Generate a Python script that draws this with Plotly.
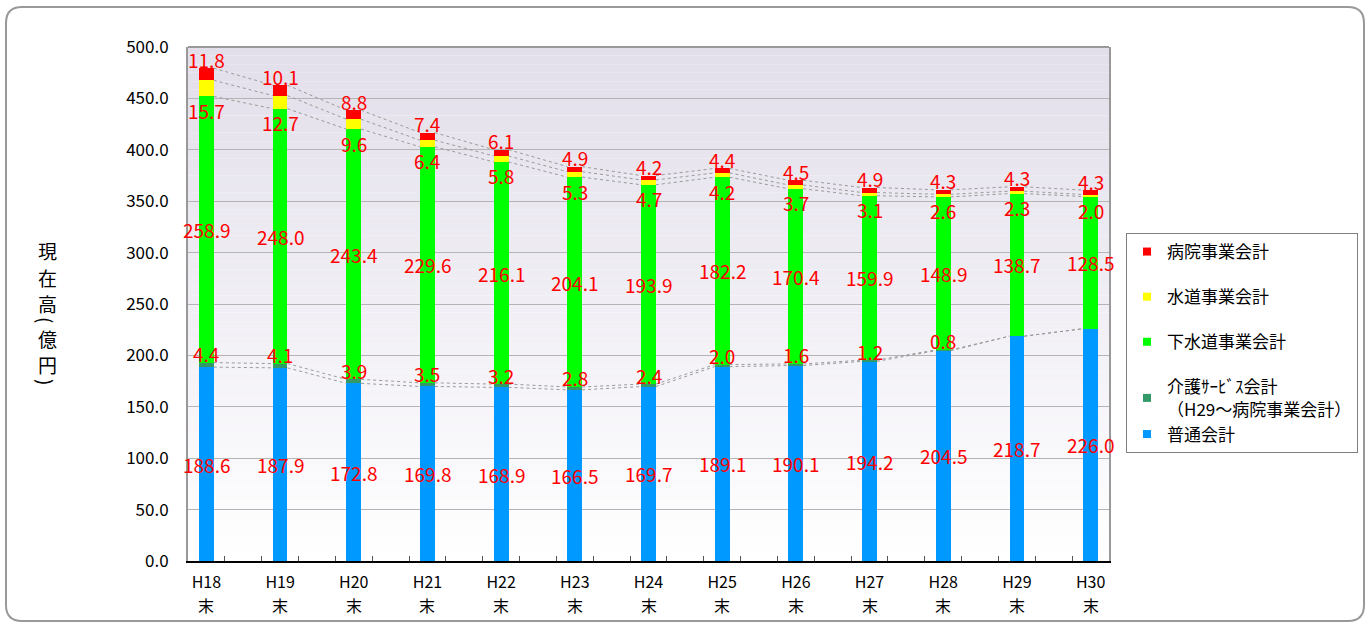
import plotly.graph_objects as go

# Fiscal year-end labels (Heisei era)
years = ["H18", "H19", "H20", "H21", "H22", "H23", "H24", "H25", "H26", "H27", "H28", "H29", "H30"]
year_suffix = "末"

# Outstanding balance by account (100 million yen)
general = [188.6, 187.9, 172.8, 169.8, 168.9, 166.5, 169.7, 189.1, 190.1, 194.2, 204.5, 218.7, 226.0]
care = [4.4, 4.1, 3.9, 3.5, 3.2, 2.8, 2.4, 2.0, 1.6, 1.2, 0.8, 0.0, 0.0]
sewer = [258.9, 248.0, 243.4, 229.6, 216.1, 204.1, 193.9, 182.2, 170.4, 159.9, 148.9, 138.7, 128.5]
water = [15.7, 12.7, 9.6, 6.4, 5.8, 5.3, 4.7, 4.2, 3.7, 3.1, 2.6, 2.3, 2.0]
hospital = [11.8, 10.1, 8.8, 7.4, 6.1, 4.9, 4.2, 4.4, 4.5, 4.9, 4.3, 4.3, 4.3]

names = {
    "hospital": "病院事業会計",
    "water": "水道事業会計",
    "sewer": "下水道事業会計",
    "care": "介護ｻｰﾋﾞｽ会計<br>（H29～病院事業会計）",
    "general": "普通会計",
}
colors = {
    "hospital": "#ff0000",
    "water": "#ffff00",
    "sewer": "#00ff00",
    "care": "#339966",
    "general": "#0099ff",
}

W, H = 1371, 623
ML, MR, MT, MB = 188, 262, 47, 62
PW, PH = W - ML - MR, H - MT - MB
BAR_W = 0.2
FONT = "Noto Sans CJK JP"

x = list(range(len(years)))
series = [("general", general), ("care", care), ("sewer", sewer), ("water", water), ("hospital", hospital)]


def px2paper(px, py):
    return (px - ML) / PW, 1 - (py - MT) / PH


fig = go.Figure()

# stacked bars
for key, vals in series:
    fig.add_trace(go.Bar(
        x=x, y=vals, width=BAR_W, marker=dict(color=colors[key], line=dict(width=0)),
        showlegend=False, hoverinfo="skip",
    ))

# cumulative tops of each segment
tops = {}
run = [0.0] * len(x)
for key, vals in series:
    run = [r + v for r, v in zip(run, vals)]
    tops[key] = list(run)

# series lines joining segment tops between neighbouring bars
for key, _ in series:
    lx, ly = [], []
    t = tops[key]
    for i in range(len(x) - 1):
        lx += [x[i] + BAR_W / 2, x[i + 1] - BAR_W / 2, None]
        ly += [t[i], t[i + 1], None]
    fig.add_trace(go.Scatter(x=lx, y=ly, mode="lines",
                             line=dict(color="#9a9a9a", width=1, dash="dot"),
                             showlegend=False, hoverinfo="skip"))

# legend entries (top to bottom)
legend_order = [("hospital", "g1"), ("water", "g2"), ("sewer", "g3"), ("care", "g4"), ("general", "g4")]
for key, grp in legend_order:
    fig.add_trace(go.Scatter(
        x=[None], y=[None], mode="markers", name=names[key],
        marker=dict(symbol="square", size=8, color=colors[key]),
        legendgroup=grp,
    ))

# value labels
lab_font = dict(family=FONT, size=19, color="#ff0000")
ann = []
for i in x:
    ann.append(dict(x=i, y=general[i] / 2, text=f"{general[i]:.1f}"))
    if care[i] > 0:
        ann.append(dict(x=i, y=tops["care"][i], text=f"{care[i]:.1f}", yshift=9))
    ann.append(dict(x=i, y=(tops["care"][i] + tops["sewer"][i]) / 2, text=f"{sewer[i]:.1f}"))
    ann.append(dict(x=i, y=tops["sewer"][i], text=f"{water[i]:.1f}", yshift=-14))
    ann.append(dict(x=i, y=tops["hospital"][i], text=f"{hospital[i]:.1f}", yshift=9))
annotations = []
for a in ann:
    a.update(xref="x", yref="y", showarrow=False, font=lab_font, xanchor="center", yanchor="middle")
    annotations.append(a)

# second line of the category labels
_, y_suffix = px2paper(0, 605)
for i in x:
    annotations.append(dict(xref="x", yref="paper", x=i, y=y_suffix, text=year_suffix,
                            showarrow=False, xanchor="center", yanchor="middle",
                            font=dict(family=FONT, size=16, color="#000000")))

# vertical axis title, one glyph per line; brackets turned for vertical writing
title_glyphs = [("現", 251, 0), ("在", 277, 0), ("高", 303, 0), ("(", 320, 90),
                ("億", 338, 0), ("円", 364, 0), (")", 382, 90)]
for ch, py, ang in title_glyphs:
    xp, yp = px2paper(47, py)
    annotations.append(dict(xref="paper", yref="paper", x=xp, y=yp, text=ch, textangle=ang,
                            showarrow=False, xanchor="center", yanchor="middle",
                            font=dict(family=FONT, size=19, color="#000000")))

# background gradient bands inside the plot area
shapes = []
top_rgb = (226, 222, 234)
bot_rgb = (255, 255, 255)
n_bands = 60
for k in range(n_bands):
    f = (k + 0.5) / n_bands
    c = tuple(round(b + (t - b) * f) for t, b in zip(top_rgb, bot_rgb))
    shapes.append(dict(type="rect", xref="paper", yref="paper", x0=0, x1=1,
                       y0=k / n_bands, y1=(k + 1) / n_bands,
                       fillcolor=f"rgb({c[0]},{c[1]},{c[2]})", line=dict(width=0), layer="below"))

# top border of the plot area
shapes.append(dict(type="line", xref="paper", yref="paper", x0=0, x1=1, y0=1, y1=1,
                   line=dict(color="#999999", width=2), layer="above"))


def P(px, py):
    a, b = px2paper(px, py)
    return f"{a:.5f},{b:.5f}"


# rounded outer frame
L, R, T, B, rad = 6, 1364, 7, 621, 16
path = (
    f"M {P(L + rad, T)} L {P(R - rad, T)} Q {P(R, T)} {P(R, T + rad)} "
    f"L {P(R, B - rad)} Q {P(R, B)} {P(R - rad, B)} "
    f"L {P(L + rad, B)} Q {P(L, B)} {P(L, B - rad)} "
    f"L {P(L, T + rad)} Q {P(L, T)} {P(L + rad, T)} Z"
)
shapes.append(dict(type="path", xref="paper", yref="paper", path=path,
                   line=dict(color="#999999", width=2), fillcolor="rgba(0,0,0,0)", layer="above"))

leg_x, leg_y = px2paper(1126, 233)
fig.update_layout(
    width=W, height=H,
    margin=dict(l=ML, r=MR, t=MT, b=MB, pad=0),
    paper_bgcolor="#ffffff", plot_bgcolor="#ffffff",
    barmode="stack", bargap=0,
    font=dict(family=FONT, color="#000000"),
    shapes=shapes, annotations=annotations,
    legend=dict(
        x=leg_x, xanchor="left", y=leg_y, yanchor="top",
        bgcolor="#ffffff", bordercolor="#808080", borderwidth=1,
        font=dict(family=FONT, size=17, color="#000000"),
        traceorder="grouped", tracegroupgap=20, itemwidth=30,
    ),
    xaxis=dict(
        range=[-0.25, 12.25], tickmode="array", tickvals=x, ticktext=years,
        ticks="", showgrid=False, zeroline=False, ticklabelstandoff=6,
        showline=True, linecolor="#000000", linewidth=2,
        tickfont=dict(family=FONT, size=16, color="#000000"),
        minor=dict(tickmode="array", tickvals=[0.25 + 0.5 * k for k in range(24)],
                   ticks="inside", ticklen=5, tickcolor="#555555", tickwidth=1, showgrid=False),
    ),
    yaxis=dict(
        range=[0, 500], tickmode="array", tickvals=list(range(0, 501, 50)),
        ticktext=[f"{v:.1f}" for v in range(0, 501, 50)],
        showgrid=True, gridcolor="#b4b4b4", gridwidth=1, zeroline=False,
        showline=True, linecolor="#999999", linewidth=2, mirror=True,
        ticks="", ticklabelstandoff=14,
        tickfont=dict(family=FONT, size=17, color="#000000"),
    ),
)

fig.write_html("out.html")
